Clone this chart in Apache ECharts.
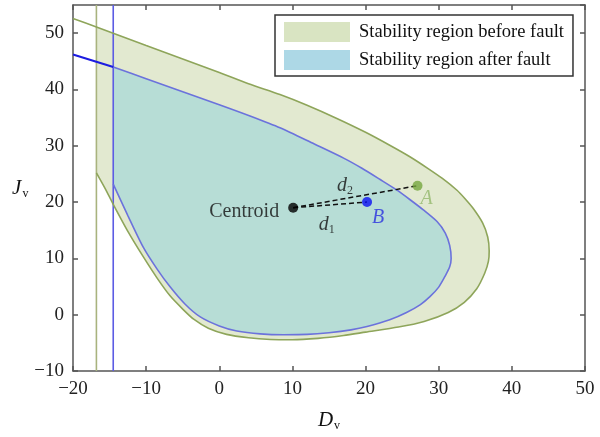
<!DOCTYPE html>
<html><head><meta charset="utf-8">
<script src="https://cdn.jsdelivr.net/npm/echarts@6/dist/echarts.min.js"></script>
<style>html,body{margin:0;padding:0;background:#fff}#c{width:600px;height:437px}</style>
</head><body><div id="c"></div><script>
// ---- data ----
const xTicks = [-20, -10, 0, 10, 20, 30, 40, 50];
const yTicks = [-10, 0, 10, 20, 30, 40, 50];
const yTop = 55;
const seriesNames = ['Stability region before fault', 'Stability region after fault'];
const beforeEdgeX = -16.8;
const afterEdgeX = -14.5;
// boundary before fault: lower-left start, along bottom, tip, back along top to left edge
const beforeBoundary = [
  [-16.8, 25.2], [-15.6, 22.4], [-14.5, 19.6], [-12.5, 14.8], [-10.4, 10.3], [-8.5, 6.5],
  [-6.7, 3.3], [-5.0, 1.0], [-3.5, -0.8], [-1.5, -2.4], [1.0, -3.5], [4.0, -4.1],
  [7.0, -4.4], [10.0, -4.45], [13.5, -4.2], [17.0, -3.7], [20.0, -3.1], [24.5, -2.2],
  [28.0, -1.2], [31.3, 0.4], [33.5, 2.2], [35.2, 4.6], [36.3, 7.4], [36.8, 9.5],
  [36.9, 11.3], [36.7, 13.8], [36.0, 16.3], [34.7, 18.9], [33.6, 20.6], [32.5, 22.1],
  [30.5, 24.2], [28.5, 26.0], [26.0, 28.1], [23.3, 30.1], [20.0, 32.4], [16.0, 34.9],
  [12.0, 37.2], [8.3, 39.1], [4.0, 41.0], [0.0, 43.0], [-5.0, 45.4], [-10.0, 47.8],
  [-16.8, 51.1], [-20.0, 52.6]
];
// boundary after fault
const afterBoundary = [
  [-14.5, 23.2], [-12.5, 17.6], [-10.4, 12.0], [-8.5, 8.1], [-6.7, 4.9], [-4.7, 1.9],
  [-2.6, -0.4], [0.0, -2.0], [2.4, -2.9], [5.6, -3.4], [8.8, -3.55], [12.0, -3.5],
  [15.0, -3.2], [18.0, -2.7], [20.2, -2.1], [23.3, -0.9], [25.6, 0.4], [27.5, 1.8],
  [28.8, 3.2], [30.0, 4.9], [30.9, 6.9], [31.5, 8.5], [31.7, 10.0], [31.5, 12.3],
  [30.9, 14.5], [29.8, 16.5], [27.9, 18.6], [26.0, 20.5], [24.2, 22.2], [22.0, 24.0],
  [19.5, 26.0], [17.0, 27.8], [13.0, 30.3], [8.3, 33.2], [4.2, 35.3], [0.0, 37.3],
  [-5.0, 39.6], [-10.0, 41.9], [-14.5, 44.0], [-20.0, 46.2]
];
const centroid = [10.1, 19.0];
const pointA = [27.1, 22.9];
const pointB = [20.2, 20.0];
const pointNames = ['Centroid', 'A', 'B'];
const distLabels = [[17.2, 22.9, '2'], [14.7, 16.0, '1']];

// ---- styles ----
const SERIF = "'Liberation Serif','DejaVu Serif',serif";
const C = {
  beforeFill: '#e2e9d0', afterFill: '#b7ddd6',
  beforeLegend: '#d9e4c2', afterLegend: '#add8e6',
  beforeLine: '#8ea55a', beforeV: '#a9b37e',
  afterLine: '#6b72dc', afterV: '#5c5ce4', afterLeft: '#1c1ce0',
  axis: '#555'
};
const xMin = xTicks[0], xMax = xTicks[xTicks.length - 1];
const yMin = yTicks[0];
const xInt = xTicks[1] - xTicks[0], yInt = yTicks[1] - yTicks[0];

function polySeries(name, pts, fill, z) {
  return {
    type: 'custom', name: name, coordinateSystem: 'cartesian2d', z: z, silent: true,
    data: [pts[0]], itemStyle: { color: fill },
    renderItem: function (params, api) {
      return { type: 'polygon', shape: { points: pts.map(p => api.coord(p)) }, style: { fill: fill } };
    }
  };
}
function lineSeries(data, color, width, z, dashed, smooth) {
  return {
    type: 'line', data: data, showSymbol: false, symbol: 'none', silent: true, z: z,
    smooth: smooth || false,
    lineStyle: { color: color, width: width, type: dashed ? [5, 3] : 'solid' }, animation: false
  };
}

const beforePoly = beforeBoundary.filter(p => p[0] >= beforeEdgeX);
const afterPoly = afterBoundary.filter(p => p[0] >= afterEdgeX);

function axisCommon() {
  return {
    axisLine: { show: true, onZero: false, lineStyle: { color: C.axis, width: 1.5 } },
    axisTick: { show: true, inside: true, length: 5, lineStyle: { color: C.axis, width: 1.5 } },
    splitLine: { show: false }
  };
}
const labelFmt = v => (v < 0 ? '\u2212' + Math.abs(v) : String(v));

const option = {
  animation: false,
  backgroundColor: '#fff',
  grid: { left: 73, right: 15, top: 5, bottom: 58, containLabel: false },
  legend: {
    orient: 'vertical', left: 275, top: 15,
    padding: [7, 9, 6, 9], itemGap: 8, itemWidth: 66, itemHeight: 20,
    borderColor: '#333', borderWidth: 1.5, backgroundColor: '#fff',
    textStyle: { fontFamily: SERIF, fontSize: 18.5, color: '#111', padding: [0, 0, 0, 4] },
    data: [
      { name: seriesNames[0], icon: 'rect', itemStyle: { color: C.beforeLegend } },
      { name: seriesNames[1], icon: 'rect', itemStyle: { color: C.afterLegend } }
    ]
  },
  xAxis: [
    Object.assign({
      type: 'value', min: xMin, max: xMax, interval: xInt, position: 'bottom',
      name: '{i|D}{s|v}', nameLocation: 'middle', nameGap: 37,
      nameTextStyle: {
        rich: {
          i: { fontFamily: SERIF, fontStyle: 'italic', fontSize: 21, color: '#111' },
          s: { fontFamily: SERIF, fontSize: 12, color: '#111', padding: [12, 0, 0, 1] }
        }
      },
      axisLabel: { fontFamily: SERIF, fontSize: 19, color: '#222', margin: 9, formatter: labelFmt }
    }, axisCommon()),
    Object.assign({
      type: 'value', min: xMin, max: xMax, interval: xInt, position: 'top',
      axisLabel: { show: false }
    }, axisCommon())
  ],
  yAxis: [
    Object.assign({
      type: 'value', min: yMin, max: yTop, interval: yInt, position: 'left',
      name: '{i|J}{s|v}', nameLocation: 'middle', nameRotate: 0, nameGap: 42,
      nameTextStyle: {
        rich: {
          i: { fontFamily: SERIF, fontStyle: 'italic', fontSize: 21, color: '#111' },
          s: { fontFamily: SERIF, fontSize: 12, color: '#111', padding: [12, 0, 0, 1] }
        }
      },
      axisLabel: { fontFamily: SERIF, fontSize: 19, color: '#222', margin: 9, formatter: labelFmt, showMaxLabel: false }
    }, axisCommon()),
    Object.assign({
      type: 'value', min: yMin, max: yTop, interval: yInt, position: 'right',
      axisLabel: { show: false }
    }, axisCommon())
  ],
  series: [
    polySeries(seriesNames[0], beforePoly, C.beforeFill, 1),
    polySeries(seriesNames[1], afterPoly, C.afterFill, 2),
    lineSeries([[beforeEdgeX, yMin], [beforeEdgeX, yTop]], C.beforeV, 1.6, 3),
    lineSeries([[afterEdgeX, yMin], [afterEdgeX, yTop]], C.afterV, 1.6, 3),
    lineSeries(beforeBoundary, C.beforeLine, 1.6, 4, false, 0.25),
    lineSeries(afterBoundary.filter(p => p[0] >= afterEdgeX), C.afterLine, 1.6, 4, false, 0.25),
    lineSeries(afterBoundary.slice(-2), C.afterLeft, 2, 4),
    lineSeries([centroid, pointA], '#111', 1.5, 5, true),
    lineSeries([centroid, pointB], '#111', 1.5, 5, true),
    {
      type: 'scatter', z: 6, silent: true, symbolSize: 10,
      data: [
        { name: pointNames[0], value: centroid, itemStyle: { color: '#000' },
          label: { show: true, position: 'inside', offset: [-49, 4], formatter: '{b}', fontFamily: SERIF, fontSize: 20, color: '#111' } },
        { name: pointNames[1], value: pointA, itemStyle: { color: '#76a63e' },
          label: { show: true, position: 'inside', offset: [9, 13], formatter: '{b}', fontFamily: SERIF, fontStyle: 'italic', fontSize: 20, color: '#93b86c' } },
        { name: pointNames[2], value: pointB, itemStyle: { color: '#0a10f2' },
          label: { show: true, position: 'inside', offset: [11, 16], formatter: '{b}', fontFamily: SERIF, fontStyle: 'italic', fontSize: 20, color: '#2830e0' } }
      ]
    },
    {
      type: 'scatter', z: 6, silent: true, symbolSize: 0,
      data: distLabels.map(d => ({ value: [d[0], d[1]], name: d[2] })),
      label: {
        show: true, position: 'inside', formatter: '{i|d}{s|{b}}',
        rich: {
          i: { fontFamily: SERIF, fontStyle: 'italic', fontSize: 20, color: '#111' },
          s: { fontFamily: SERIF, fontSize: 12, color: '#111', padding: [10, 0, 0, 0] }
        }
      }
    }
  ]
};
const chart = echarts.init(document.getElementById('c'), null, { renderer: 'canvas' });
chart.setOption(option);
</script></body></html>
